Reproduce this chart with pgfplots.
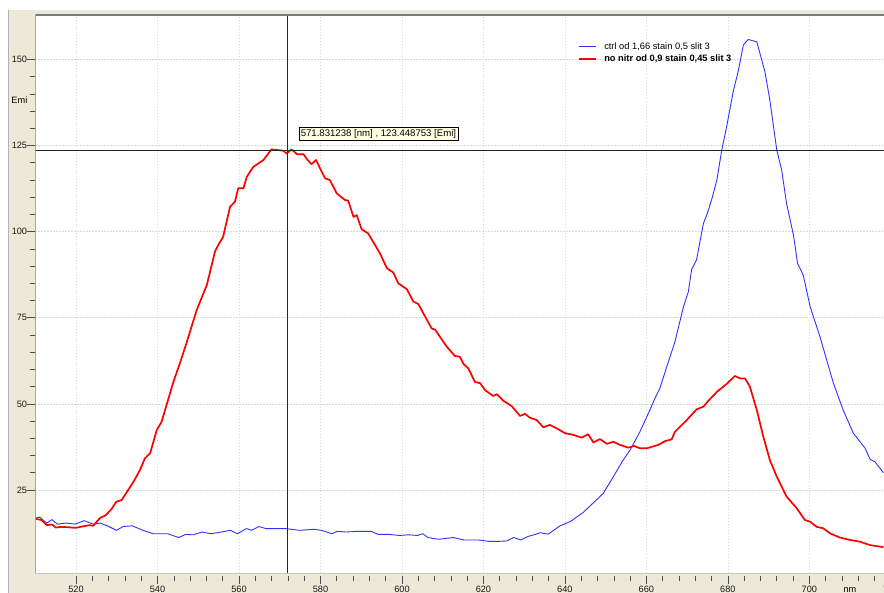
\documentclass[border=0pt]{standalone}
\usepackage{pgfplots}
\pgfplotsset{compat=1.18}
\usepackage{fontspec}
\setmainfont{Liberation Sans}

\definecolor{panel}{HTML}{ECE9D8}
\definecolor{frameline}{HTML}{7A7A7A}
\definecolor{tipfill}{HTML}{FFFFE1}
\definecolor{ctrlblue}{RGB}{50,50,255}
\definecolor{gridgray}{HTML}{D9D9D9}

% emission spectra: wavelength [nm], intensity [Emi]
\pgfplotstableread{
x y
510.2 16.9
511.1 17.1
512.8 15.4
514.1 16.4
515.4 15.1
517.6 15.4
519.8 15.1
522.0 16.1
524.2 15.1
525.9 15.4
527.7 14.6
529.9 13.3
531.6 14.4
533.8 14.6
536.4 13.3
539.0 12.3
542.5 12.3
545.2 11.2
546.9 12.1
548.7 12.0
550.9 12.8
553.1 12.3
555.7 12.8
557.9 13.3
559.6 12.3
561.8 13.8
563.1 13.3
564.9 14.4
566.6 13.8
571.4 13.8
574.9 13.3
578.4 13.6
580.2 13.3
582.8 12.3
584.1 13.0
586.3 12.8
588.9 13.0
592.4 13.0
594.2 12.1
596.8 12.1
599.4 11.8
601.6 12.0
603.8 11.8
605.1 12.3
606.4 11.2
609.0 10.7
612.6 11.2
615.2 10.5
618.7 10.5
621.3 10.1
623.9 10.1
625.7 10.2
627.4 11.2
629.2 10.5
630.9 11.5
632.7 12.1
633.9 12.6
635.9 12.2
638.8 14.6
641.4 15.9
644.5 18.5
647.0 21.3
649.4 24.0
651.9 28.9
654.3 33.7
656.0 36.6
658.4 41.9
660.5 47.3
662.1 51.6
663.3 54.5
665.0 60.8
667.0 68.0
669.1 78.2
670.3 82.6
671.1 89.0
672.3 91.8
674.0 102.4
674.8 104.8
676.0 109.2
677.3 115.0
678.5 123.7
679.7 130.5
681.3 140.6
682.6 146.9
683.8 154.2
685.0 155.8
687.1 155.1
689.1 146.4
690.3 138.2
692.0 123.7
693.2 117.9
694.4 108.2
696.1 99.0
697.1 90.8
698.5 87.4
700.2 78.2
702.6 69.5
705.9 56.0
708.3 48.2
710.8 41.5
713.7 37.1
714.9 33.9
716.1 33.2
718.2 30.0
}\ctrl

\pgfplotstableread{
x y
510.2 16.6
511.5 16.3
512.8 14.8
514.1 15.0
515.0 14.1
516.3 14.3
518.1 14.2
519.8 14.0
521.5 14.4
523.3 14.8
524.2 14.6
525.9 16.9
527.2 17.6
528.6 19.3
529.9 21.6
531.2 22.1
534.1 27.4
535.7 30.8
536.9 34.2
538.2 35.7
539.8 42.4
541.0 44.8
543.9 56.4
545.5 61.8
547.2 68.0
549.6 77.2
552.1 84.5
554.1 94.2
554.9 96.1
556.1 98.5
557.8 107.2
559.0 108.7
559.8 112.6
561.1 112.6
561.9 115.9
563.5 118.8
566.0 120.8
568.0 123.9
570.9 123.5
571.7 122.7
572.9 123.9
574.2 122.5
575.8 122.5
577.0 120.6
577.8 119.6
578.9 120.8
581.1 115.5
582.3 115.0
584.0 111.1
586.0 109.2
586.8 109.0
588.1 104.3
588.9 104.8
590.1 100.7
591.7 99.5
594.6 93.7
596.3 89.4
597.9 88.1
599.1 85.0
601.2 83.3
602.8 79.7
604.0 79.0
607.3 71.9
608.1 71.6
611.0 66.6
613.0 63.9
614.2 63.7
615.1 61.6
616.3 60.3
617.9 56.4
619.2 56.0
620.4 54.0
622.4 52.3
623.3 52.8
624.9 50.9
626.9 49.4
629.0 46.5
630.2 47.1
631.4 46.0
633.1 45.3
634.7 43.2
636.3 43.9
638.0 42.9
640.0 41.5
642.1 41.0
644.1 40.2
645.7 41.2
647.0 38.8
648.6 39.8
650.3 38.4
651.9 39.0
653.5 38.1
655.6 37.3
657.0 37.8
658.4 37.1
660.1 37.1
662.9 38.1
664.6 39.2
666.2 39.7
667.0 41.9
669.9 45.3
672.3 48.4
674.0 49.2
675.2 50.9
677.3 53.5
679.7 55.8
681.7 58.1
683.0 57.4
684.2 57.4
685.4 55.0
687.1 48.2
688.7 40.5
690.3 33.7
692.0 28.9
694.4 23.1
696.9 19.7
698.9 16.3
700.2 15.8
701.8 14.3
703.4 13.9
705.1 12.4
707.5 11.2
710.0 10.5
712.4 10.0
714.9 9.0
718.2 8.4
}\nonitr

\begin{document}
\begin{tikzpicture}
\useasboundingbox (0,0) rectangle (884bp,593bp);
\begin{scope}
\clip (0,0) rectangle (884bp,593bp);
% window background
\fill[white] (0,0) rectangle (884bp,593bp);
\fill[panel] (8bp,0) rectangle (884bp,583bp);
\draw[gray!60, line width=0.8bp] (8.5bp,0) -- (8.5bp,583bp);

\begin{axis}[
  scale only axis,
  width=875.9bp, height=558.3bp,
  at={(35.3bp,19.7bp)}, anchor=south west,
  xmin=510, xmax=725, ymin=0.82, ymax=162.9,
  axis background/.style={fill=white},
  axis line style={draw=none},
  xtick={520,540,...,720}, minor x tick num=4,
  ytick={25,50,...,150}, minor y tick num=4,
  xtick pos=left, ytick pos=left,
  tick align=outside,
  major tick length=8bp, minor tick length=5.5bp,
  tick style={color=black!70, line width=0.6bp},
  x tick style={yshift=-2.5bp},
  grid=major,
  major grid style={gridgray, dash pattern=on 1.5bp off 1.5bp, line width=0.6bp},
  ticklabel style={font=\fontsize{9.2bp}{11bp}\selectfont, inner sep=0pt, text=black!90},
  /pgf/number format/assume math mode=true,
  /pgf/number format/1000 sep={},
  xticklabel style={anchor=base, yshift=-11.4bp},
  yticklabel style={anchor=east},
  legend style={at={(0.62,0.955)}, anchor=north west, draw=none, fill=none,
    font=\fontsize{9.3bp}{11bp}\selectfont, inner sep=0pt, row sep=0.6bp},
  legend cell align=left,
  legend image code/.code={%
    \draw (0bp,0bp) -- (17bp,0bp);
    \path (22bp,0bp);},
]
\addplot[ctrlblue, line width=0.9bp] table[x=x,y=y] {\ctrl};
\addlegendentry{ctrl od 1,66 stain 0,5 slit 3}
\addplot[red, line width=1.7bp, line join=round] table[x=x,y=y] {\nonitr};
\addlegendentry{\textbf{no nitr od 0,9 stain 0,45 slit 3}}

% cursor cross-hair
\addplot[black!85, line width=0.9bp, forget plot] coordinates {(571.831238,0.82) (571.831238,162.9)};
\addplot[black!85, line width=0.9bp, forget plot] coordinates {(510,123.448753) (725,123.448753)};

% plot frame
\draw[gray!45, line width=0.6bp] (rel axis cs:0,0) -- (rel axis cs:1,0);
\draw[frameline, line width=1.5bp] (rel axis cs:0,0) -- (rel axis cs:0,1) -- (rel axis cs:1,1);

\node[fill=tipfill, draw=black, line width=0.6bp, anchor=south west,
      inner xsep=1.8bp, inner ysep=2bp, xshift=11.5bp, yshift=10.5bp,
      font=\fontsize{9.6bp}{11bp}\selectfont]
  at (axis cs:571.831238,123.448753) {571.831238 [nm] , 123.448753 [Emi]};
\end{axis}

\node[anchor=east, inner sep=0pt, font=\fontsize{9.2bp}{11bp}\selectfont] at (27.5bp,492.7bp) {Emi};
\node[anchor=base, inner sep=0pt, font=\fontsize{9.2bp}{11bp}\selectfont] at (850bp,0.6bp) {nm};
\end{scope}
\end{tikzpicture}
\end{document}
